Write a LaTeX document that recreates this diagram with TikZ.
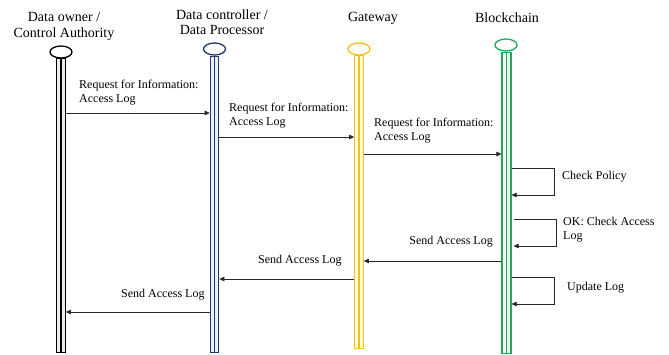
\documentclass[tikz,border=0pt]{standalone}
\usepackage{fontspec}
\setmainfont{Liberation Serif}
\usetikzlibrary{shapes.geometric,arrows.meta}
\definecolor{cblue}{RGB}{32,56,110}
\definecolor{cgold}{RGB}{250,192,20}
\definecolor{cgreen}{RGB}{40,165,90}
\definecolor{cline}{RGB}{40,40,40}
\tikzset{
  head/.style={ellipse, draw=#1, line width=1.3pt, minimum width=22pt, minimum height=12pt, inner sep=0pt},
  lifebar/.style={rectangle, draw=#1, line width=1.1pt, fill=#1!8, minimum width=8.5pt, inner sep=0pt, anchor=north,
    path picture={\draw[#1, line width=1.1pt] (path picture bounding box.north) -- (path picture bounding box.south);}},
  hdr/.style={font=\fontsize{14}{15.5}\selectfont, align=center, inner sep=0pt},
  lbl/.style={font=\fontsize{12}{14}\selectfont, align=left, inner sep=0pt},
  msg/.style={draw=cline, line width=0.6pt, -{Triangle[length=5pt,width=4.5pt]}},
}
\begin{document}
\begin{tikzpicture}[x=1pt,y=-1pt]
\useasboundingbox (0,0) rectangle (669,354);
% headers
\node[hdr] (h1) at (64,26.5) {Data owner /\\Control Authority};
\node[hdr] (h2) at (222,22) {Data controller /\\Data Processor};
\node[hdr] (h3) at (373,18) {Gateway};
\node[hdr] (h4) at (507,18) {Blockchain};
% lifelines
\node[lifebar=black, minimum height=294pt] (b1) at (61,58) {};
\node[head=black] (e1) at (61,52) {};
\node[lifebar=cblue, minimum height=296pt] (b2) at (214.5,56) {};
\node[head=cblue] (e2) at (214.5,49) {};
\node[lifebar=cgold, minimum height=293pt] (b3) at (359,55) {};
\node[head=cgold] (e3) at (359,49) {};
\node[lifebar=cgreen, minimum height=301pt, minimum width=9pt] (b4) at (506.5,52) {};
\node[head=cgreen] (e4) at (506,45) {};
% message levels
\coordinate (y1) at (0,113);
\coordinate (y2) at (0,137);
\coordinate (y3) at (0,154);
\coordinate (y4a) at (0,168);
\coordinate (y4b) at (0,195);
\coordinate (y5a) at (0,219);
\coordinate (y5b) at (0,246);
\coordinate (y6) at (0,261);
\coordinate (y7a) at (0,277);
\coordinate (y7b) at (0,304);
\coordinate (y8) at (0,279);
\coordinate (y9) at (0,312);
% messages
\draw[msg] (b1.east |- y1) -- (b2.west |- y1);
\draw[msg] (b2.east |- y2) -- (b3.west |- y2);
\draw[msg] (b3.east |- y3) -- (b4.west |- y3);
\draw[msg] (b4.east |- y4a) -- ++(43,0) |- (b4.east |- y4b);
\draw[msg] (b4.east |- y5a) ++(2,0) -- ++(43,0) |- ([xshift=2pt]b4.east |- y5b);
\draw[msg] (b4.west |- y6) -- (b3.east |- y6);
\draw[msg] (b4.east |- y7a) -- ++(43,0) |- (b4.east |- y7b);
\draw[msg] (b3.west |- y8) -- (b2.east |- y8);
\draw[msg] (b2.west |- y9) -- (b1.east |- y9);
% labels
\node[lbl, anchor=west] (l1) at (79,93) {Request for Information:\\Access Log};
\node[lbl, anchor=west] (l2) at (229,116) {Request for Information:\\Access Log};
\node[lbl, anchor=west] (l3) at (374,131) {Request for Information:\\Access Log};
\node[lbl, anchor=west] (l4) at (562,177) {Check Policy};
\node[lbl, anchor=west] (l5) at (563,229.5) {OK: Check Access\\Log};
\node[lbl, anchor=east] (l6) at (493,242) {Send Access Log};
\node[lbl, anchor=west] (l7) at (567,288) {Update Log};
\node[lbl, anchor=west] (l8) at (258,261) {Send Access Log};
\node[lbl, anchor=west] (l9) at (121,295) {Send Access Log};
\end{tikzpicture}
\end{document}
